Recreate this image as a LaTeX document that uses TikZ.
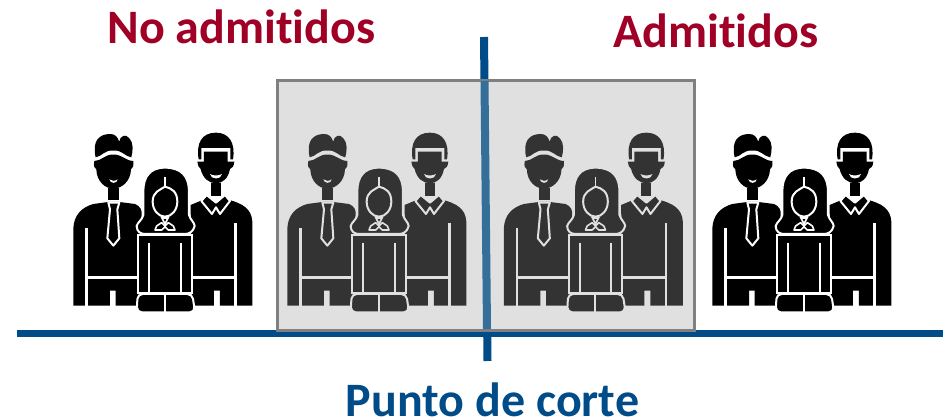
\documentclass[tikz,border=0pt]{standalone}
\usepackage{fontspec}
\setmainfont{Carlito}[Ligatures=NoCommon]
\definecolor{cutblue}{HTML}{004C88}
\definecolor{cutlight}{HTML}{336F98}
\definecolor{labelred}{HTML}{A00025}
\definecolor{boxfill}{HTML}{E0E0E0}
\definecolor{boxedge}{HTML}{808080}
\definecolor{figdark}{HTML}{333333}
\tikzset{
  heading/.style={font=\bfseries\fontsize{48}{48}\selectfont, inner sep=0pt, anchor=base},
  pics/people/.style args={#1/#2}{code={
    \begin{scope}[x=0.3333pt,y=-0.3333pt]
      % left man
      \fill[#1] (40,557) -- (40,325) .. controls (42,285) and (65,262) .. (100,252) -- (145,246) -- (178,246) -- (225,252) .. controls (240,258) and (248,270) .. (245,290) -- (245,557) -- (167,557) -- (167,512) -- (150,512) -- (150,557) -- cycle;
      \fill[#1] (145,205) rectangle (178,240);
      \fill[#1] (103,123) .. controls (125,123) and (135,102) .. (160,104) .. controls (185,102) and (197,123) .. (220,123) .. controls (222,138) and (218,145) .. (213,148) .. controls (212,185) and (184,206) .. (160,206) .. controls (136,206) and (110,185) .. (109,148) .. controls (103,145) and (100,138) .. (103,123) -- cycle;
      \fill[#1] (107,112) .. controls (96,65) and (116,42) .. (150,42) .. controls (165,42) and (173,50) .. (178,66) .. controls (180,46) and (198,40) .. (209,56) .. controls (221,70) and (219,92) .. (214,112) .. controls (195,110) and (185,88) .. (160,92) .. controls (135,88) and (125,110) .. (107,112) -- cycle;
      % smile, left man
      \fill[#2] (148,178) .. controls (155,184) and (165,184) .. (173,178) .. controls (172,192) and (150,192) .. (148,178) -- cycle;
      % tie
      \draw[#2,line width=2pt,fill=#1,line join=round] (145,248) -- (178,248) -- (172,268) -- (178,355) -- (160,377) -- (142,355) -- (150,268) -- cycle;
      % left man seams
      \draw[#2,line width=2.4pt] (80,325) -- (80,557);
      \draw[#2,line width=2.4pt] (80,472) -- (240,472);
      % right man
      \fill[#1] (395,557) -- (392,255) -- (428,240) -- (468,262) -- (508,240) .. controls (545,250) and (575,265) .. (577,305) -- (577,557) -- (480,557) -- (480,512) -- (462,512) -- (462,557) -- cycle;
      \fill[#1] (452,190) rectangle (482,228);
      \fill[#1] (432,95) -- (503,95) -- (503,125) -- (523,125) .. controls (522,140) and (515,145) .. (510,147) .. controls (505,175) and (488,190) .. (468,190) .. controls (448,190) and (428,175) .. (422,147) .. controls (417,143) and (412,135) .. (412,125) -- (432,125) -- cycle;
      \fill[#1] (416,118) .. controls (408,70) and (425,38) .. (468,38) .. controls (508,38) and (527,70) .. (519,118) -- (511,118) -- (511,84) -- (424,84) -- (424,118) -- cycle;
      \fill[#2] (450,162) .. controls (460,168) and (475,168) .. (486,162) .. controls (484,180) and (452,180) .. (450,162) -- cycle;
      % collar
      \draw[#2,line width=2pt,fill=#1,line join=round] (440,225) -- (468,248) -- (495,225) -- (510,243) -- (480,282) -- (468,262) -- (456,282) -- (424,243) -- cycle;
      \draw[#2,line width=2.4pt] (527,310) -- (527,557);
      \draw[#2,line width=2.4pt] (395,472) -- (527,472);
      % woman
      \draw[#2,line width=2pt,fill=#1,line join=round] (315,143) .. controls (365,143) and (387,170) .. (387,215) -- (387,285) .. controls (390,298) and (404,308) .. (404,318) .. controls (400,335) and (388,342) .. (375,342) -- (255,342) .. controls (242,342) and (230,335) .. (230,318) .. controls (232,308) and (248,298) .. (250,285) -- (250,215) .. controls (250,170) and (270,143) .. (315,143) -- cycle;
      \draw[#2,line width=2pt,fill=#1] (235,345) -- (395,345) -- (395,518) -- (235,518) -- cycle;
      \draw[#2,line width=2pt,fill=#1,rounded corners=5pt] (233,522) -- (397,522) -- (405,577) -- (230,577) -- cycle;
      \draw[#2,line width=2pt] (315,522) -- (315,577);
      \draw[#2,line width=2pt] (268,368) -- (268,518) (362,368) -- (362,518);
      \draw[#2,line width=2pt,fill=#1] (315,200) .. controls (335,205) and (352,215) .. (352,245) .. controls (352,270) and (335,290) .. (315,290) .. controls (295,290) and (278,270) .. (278,245) .. controls (278,215) and (300,210) .. (315,200) -- cycle;
      \draw[#2,line width=1.6pt] (315,170) -- (315,200);
      \draw[#2,line width=1.6pt,fill=#1,line join=round] (290,318) -- (305,308) -- (315,318) -- (325,308) -- (340,318) -- (345,330) -- (325,330) -- (315,320) -- (305,330) -- (285,330) -- cycle;
      \draw[#2,line width=1.6pt,fill=#1] (306,294) -- (324,294) -- (315,312) -- cycle;
    \end{scope}
  }},
}
\begin{document}
\begin{tikzpicture}[x=1pt,y=-1pt]
  \useasboundingbox[fill=white] (0,0) rectangle (943,419);
  \coordinate (baseL) at (17,334);
  \coordinate (baseR) at (943,334);
  \coordinate (cutT) at (484,37);
  \coordinate (cutB) at (487.5,361);
  \coordinate (cutIn) at (484.5,81);
  \coordinate (cutOut) at (487,329);
  \draw[cutblue,line width=7pt] (baseL) -- (baseR);
  \draw[cutblue,line width=8pt] (cutT) -- (cutB);
  \node[draw=boxedge,fill=boxfill,line width=3pt,minimum width=417pt,minimum height=250pt,inner sep=0pt,anchor=north west] (band) at (275.5,79) {};
  \draw[cutlight,line width=8pt] (cutIn) -- (cutOut);
  \pic at (60,120) {people={black/white}};
  \pic at (274,120) {people={figdark/boxfill}};
  \pic at (490.5,120) {people={figdark/boxfill}};
  \pic at (699,120) {people={black/white}};
  \node[heading,text=labelred] (no) at (241.5,44) {No admitidos};
  \node[heading,text=labelred] (yes) at (716,48) {Admitidos};
  \node[heading,text=cutblue] (cut) at (492.5,417) {Punto de corte};
\end{tikzpicture}
\end{document}
